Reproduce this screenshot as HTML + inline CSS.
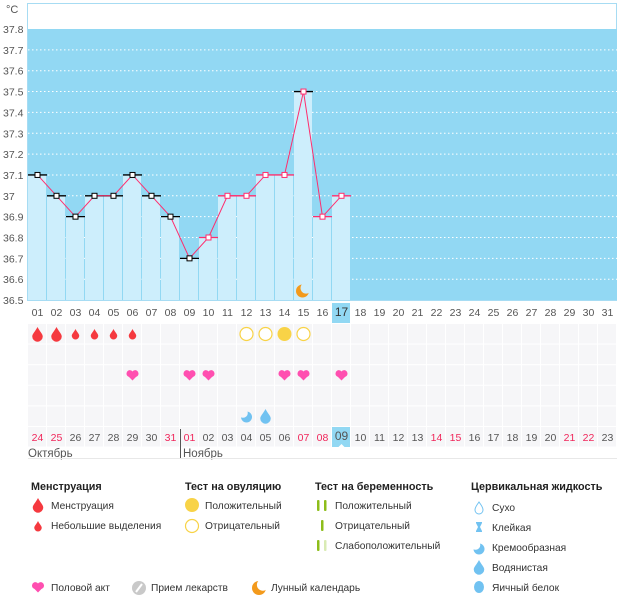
<!DOCTYPE html>
<html><head><meta charset="utf-8">
<style>
body{margin:0;background:#fff;width:626px;height:595px;overflow:hidden;font-family:"Liberation Sans","DejaVu Sans",sans-serif;}
svg text{font-family:"Liberation Sans","DejaVu Sans",sans-serif;}
</style></head><body>
<svg id="s" width="626" height="595" xmlns="http://www.w3.org/2000/svg"></svg>
<script>
var s='';
function Y(v){return 29+(37.8-v)*208.5;}
function cx(i){return 28+19*(i-1)+9.5;}
function moon(x,y,r,bg){return '<circle cx="'+x+'" cy="'+y+'" r="'+r+'" fill="#f39a1c"/><circle cx="'+(x+r*0.55)+'" cy="'+(y-r*0.45)+'" r="'+(r*0.85)+'" fill="'+bg+'"/>';}
s+='<rect x="27.5" y="3.5" width="589" height="297" fill="#fff" stroke="#a7dcf3"/>';
s+='<rect x="28" y="29" width="589" height="271" fill="#92d8f3"/>';
s+='<text x="6" y="13" font-size="11" fill="#555">°C</text>';
var labs=['37.8','37.7','37.6','37.5','37.4','37.3','37.2','37.1','37','36.9','36.8','36.7','36.6','36.5'];
for(var k=0;k<14;k++){var y=29+k*20.85;s+='<text x="3" y="'+(y+4)+'" font-size="10.5" fill="#555">'+labs[k]+'</text>';
 if(k>0&&k<13)s+='<line x1="28" x2="617" y1="'+y+'" y2="'+y+'" stroke="#fff" stroke-dasharray="1.5 2.5" stroke-width="1"/>';}
var t=[37.1,37.0,36.9,37.0,37.0,37.1,37.0,36.9,36.7,36.8,37.0,37.0,37.1,37.1,37.5,36.9,37.0];
for(var i=1;i<=17;i++){var y=Y(t[i-1]);s+='<rect x="'+(28+19*(i-1))+'" y="'+y+'" width="18" height="'+(300-y)+'" fill="#cdeefc"/>';}
for(var i=1;i<=17;i++){var y=Y(t[i-1]);var c=(i<=9||i==15)?'#000':'#ff2d6d';
 s+='<line x1="'+(28+19*(i-1))+'" x2="'+(28+19*i)+'" y1="'+y+'" y2="'+y+'" stroke="'+c+'" stroke-width="1.3"/>';}
var p='';for(var i=1;i<=17;i++)p+=cx(i)+','+Y(t[i-1])+' ';
s+='<polyline points="'+p+'" fill="none" stroke="#ff2d6d" stroke-width="1"/>';
for(var i=1;i<=17;i++){var c=i<=9?'#000':'#ff2d6d';s+='<rect x="'+(cx(i)-2.5)+'" y="'+(Y(t[i-1])-2.5)+'" width="5" height="5" fill="#fff" stroke="'+c+'"/>';}
s+=moon(cx(15)-1,291,6.5,'#cdeefc');
s+='<rect x="332" y="303" width="18" height="20" fill="#92d8f3"/>';
for(var i=1;i<=31;i++){var d=(i<10?'0':'')+i;s+='<text x="'+cx(i)+'" y="316" font-size="'+(i==17?12:10.5)+'" fill="'+(i==17?'#333':'#555')+'" text-anchor="middle">'+d+'</text>';}
for(var r=0;r<6;r++){var y0=324+r*20.6;for(var i=1;i<=31;i++)s+='<rect x="'+(28+19*(i-1))+'" y="'+y0+'" width="18" height="19.5" fill="#f6f6f8"/>';}
function drop(x,y,sz,col){return '<path d="M'+x+' '+(y-sz)+' C'+(x+sz*0.3)+' '+(y-sz*0.4)+' '+(x+sz*0.75)+' '+(y)+' '+(x+sz*0.75)+' '+(y+sz*0.35)+' A'+(sz*0.75)+' '+(sz*0.75)+' 0 0 1 '+(x-sz*0.75)+' '+(y+sz*0.35)+' C'+(x-sz*0.75)+' '+y+' '+(x-sz*0.3)+' '+(y-sz*0.4)+' '+x+' '+(y-sz)+'Z" fill="'+col+'"/>';}
s+=drop(cx(1),334,7,'#f5393f')+drop(cx(2),334,7,'#f5393f');
for(var i=3;i<=6;i++)s+=drop(cx(i),334,5,'#f5393f');
[12,13,15].forEach(function(i){s+='<circle cx="'+cx(i)+'" cy="334" r="6.5" fill="#fff" stroke="#f8d347" stroke-width="1.2"/>';});
s+='<circle cx="'+cx(14)+'" cy="334" r="7" fill="#f8d347"/>';
function heart(x,y,c){return '<path d="M'+x+' '+(y+5.5)+' L'+(x-5.2)+' '+(y+0.3)+' A3.2 3.2 0 0 1 '+x+' '+(y-3.5)+' A3.2 3.2 0 0 1 '+(x+5.2)+' '+(y+0.3)+'Z" fill="'+c+'"/><circle cx="'+(x-2.9)+'" cy="'+(y-1.2)+'" r="3.1" fill="'+c+'"/><circle cx="'+(x+2.9)+'" cy="'+(y-1.2)+'" r="3.1" fill="'+c+'"/>';}
[6,9,10,14,15,17].forEach(function(i){s+=heart(cx(i),375,'#ff4fb0');});
function cremo(x,y,bg){return '<circle cx="'+x+'" cy="'+y+'" r="5.5" fill="#71c2f1"/><circle cx="'+(x-3.5)+'" cy="'+(y-4)+'" r="4.8" fill="'+bg+'"/>';}
s+=cremo(cx(12),417,'#f6f6f8');
s+=drop(cx(13),416,7,'#71c2f1');
s+='<rect x="332" y="427" width="18" height="20" fill="#92d8f3"/>';
var bd=[24,25,26,27,28,29,30,31,1,2,3,4,5,6,7,8,9,10,11,12,13,14,15,16,17,18,19,20,21,22,23];
var red=[0,1,7,8,14,15,21,22,28,29];
for(var i=0;i<31;i++){var d=(bd[i]<10?'0':'')+bd[i];s+='<text x="'+cx(i+1)+'" y="'+(i==16?440:441)+'" font-size="'+(i==16?12:10.5)+'" fill="'+(red.indexOf(i)>=0?'#f0265a':'#555')+'" text-anchor="middle">'+d+'</text>';}
s+='<path d="M'+(cx(17)-3)+' 447 L'+cx(17)+' 444 L'+(cx(17)+3)+' 447Z" fill="#fff"/>';
s+='<line x1="180.5" x2="180.5" y1="429" y2="458" stroke="#555"/>';
s+='<text x="28" y="457" font-size="11.5" fill="#555">Октябрь</text><text x="183" y="457" font-size="11.5" fill="#555">Ноябрь</text>';
s+='<line x1="28" x2="617" y1="458.5" y2="458.5" stroke="#e8e8e8"/>';
function T(x,y,str,b){return '<text x="'+x+'" y="'+y+'" font-size="'+(b?10.8:10.2)+'" fill="'+(b?'#222':'#333')+'"'+(b?' font-weight="bold"':'')+'>'+str+'</text>';}
s+=T(31,490,'Менструация',1)+T(185,490,'Тест на овуляцию',1)+T(315,490,'Тест на беременность',1)+T(471,490,'Цервикальная жидкость',1);
s+=drop(38,505,7,'#f5393f')+T(51,509,'Менструация')+drop(38,526,5,'#f5393f')+T(51,529,'Небольшие выделения');
s+='<circle cx="192" cy="505" r="7" fill="#f8d347"/>'+T(205,509,'Положительный');
s+='<circle cx="192" cy="526" r="6.5" fill="#fff" stroke="#f8d347" stroke-width="1.2"/>'+T(205,529,'Отрицательный');
s+='<rect x="317" y="500" width="2.5" height="11" rx="1" fill="#8dbd1a"/><rect x="324" y="500" width="2.5" height="11" rx="1" fill="#8dbd1a"/>'+T(335,509,'Положительный');
s+='<rect x="321" y="520" width="2.5" height="11" rx="1" fill="#8dbd1a"/>'+T(335,529,'Отрицательный');
s+='<rect x="317" y="540" width="2.5" height="11" rx="1" fill="#8dbd1a"/><rect x="324" y="540" width="2.5" height="11" rx="1" fill="#d9ebb4"/>'+T(335,549,'Слабоположительный');
s+='<path d="M479 502 C481 505 483 507 483 510 A4 4 0 0 1 475 510 C475 507 477 505 479 502Z" fill="#fff" stroke="#71c2f1"/>'+T(492,511,'Сухо');
s+='<path d="M476 522 H482 V523 L480 527 L482 531 V532 H476 V531 L478 527 L476 523Z" fill="#71c2f1"/>'+T(492,531,'Клейкая');
s+=cremo(479,549,'#fff')+T(492,551,'Кремообразная');
s+=drop(479,567,7,'#71c2f1')+T(492,571,'Водянистая');
s+='<ellipse cx="479" cy="587" rx="5" ry="6" fill="#71c2f1"/>'+T(492,591,'Яичный белок');
s+=heart(38,587,'#ff4fb0')+T(51,591,'Половой акт');
s+='<circle cx="139" cy="588" r="7" fill="#c9c9c9"/><line x1="136" y1="592" x2="142" y2="584" stroke="#fff" stroke-width="2"/>'+T(151,591,'Прием лекарств');
s+=moon(259,588,7,'#fff')+T(271,591,'Лунный календарь');
document.getElementById('s').innerHTML=s;
</script>
</body></html>
